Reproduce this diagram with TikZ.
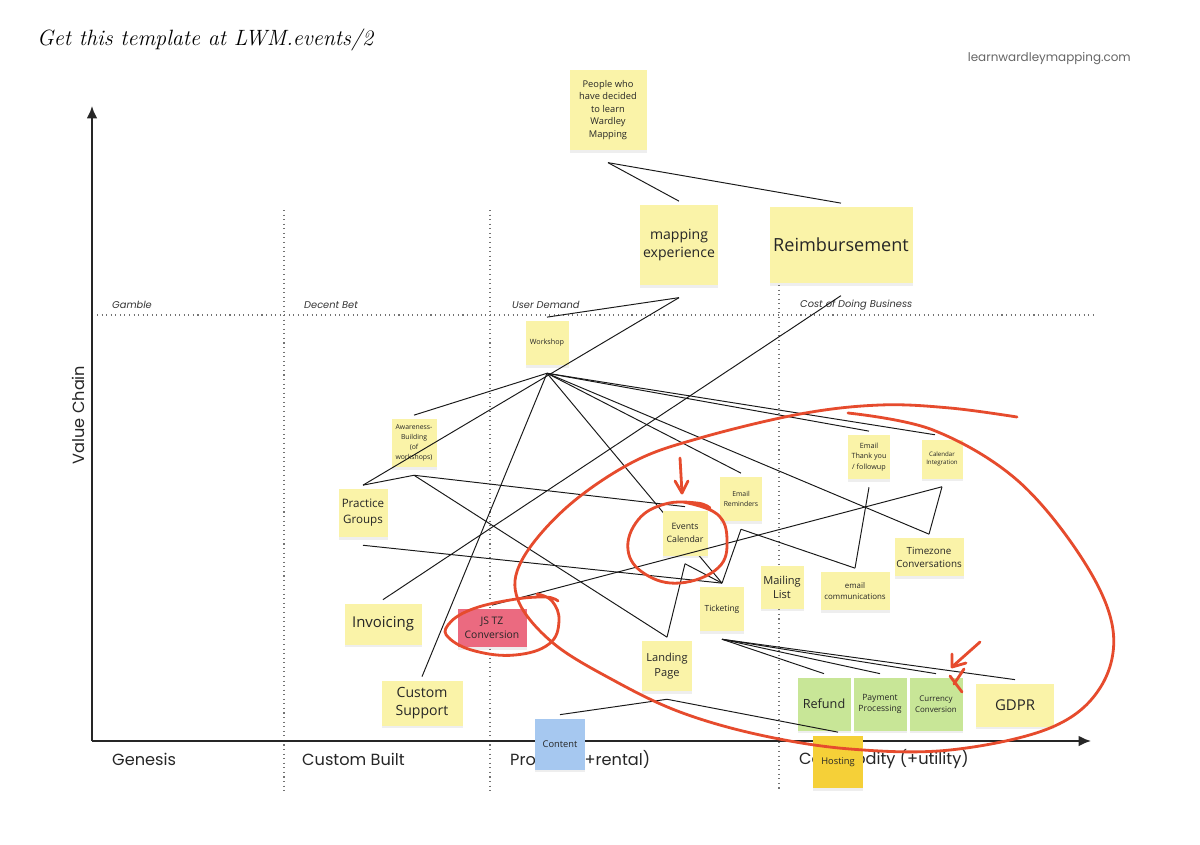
\documentclass[tikz,border=0pt]{standalone}
\usepackage{fontspec}
\newfontfamily\notefont{Open Sans}
\newfontfamily\axisfont{Poppins}
\usepackage{xcolor}
\usetikzlibrary{arrows.meta, shadows, backgrounds}

\definecolor{notey}{HTML}{FAF3A8}
\definecolor{noteg}{HTML}{C8E697}
\definecolor{notep}{HTML}{EB6A80}
\definecolor{noteb}{HTML}{A6C8F0}
\definecolor{noteo}{HTML}{F5D038}
\definecolor{redpen}{HTML}{E64B2D}

\begin{document}
\begin{tikzpicture}[
    x=0.02cm, y=-0.02cm,
    >={Latex[length=7pt, width=6pt]},
    % Sticky notes
    note/.style={
        rectangle, fill=notey, text=black!85, align=center, inner sep=0pt,
        drop shadow={shadow xshift=0pt, shadow yshift=-1.5pt, opacity=0.13}
    },
    wh/.style 2 args={minimum width=#1*0.02cm, minimum height=#2*0.02cm},
    fs/.style 2 args={font=\notefont\fontsize{#1}{#2}\selectfont},
    % Dependency line
    link/.style={black!90, line width=0.55pt},
    % Grid and axes
    grid/.style={black!55, dotted, line width=0.6pt},
    axis/.style={->, black!85, line width=1.1pt},
    axislabel/.style={font=\axisfont\fontsize{9.2}{11}\selectfont, text=black!85},
    zone/.style={font=\axisfont\itshape\fontsize{5.6}{7}\selectfont, text=black!80, anchor=west},
    % Red marker scribbles
    pen/.style={draw=redpen, line width=1.6pt, line cap=round, line join=round},
]

\begin{scope}[on background layer]
    \fill[white] (0,0) rectangle (1200,845);
\end{scope}
\useasboundingbox (0,0) rectangle (1200,845);

% ===== HEADER =====
\node[anchor=west, font=\itshape\fontsize{12.6}{15}\selectfont] (title) at (31,40)
    {Get this template at LWM.events/2};
\node[anchor=east, font=\axisfont\fontsize{6.8}{8}\selectfont, text=black!60] (site) at (1137,59)
    {learnwardleymapping.com};

% ===== GRID =====
\draw[grid] (97,315) -- (1093,315);
\draw[grid] (284,210) -- (284,792);
\draw[grid] (490,210) -- (490,792);
\draw[grid] (779,285) -- (779,792);

\node[zone] (z1) at (106,305) {Gamble};
\node[zone] (z2) at (298,305) {Decent Bet};
\node[zone] (z3) at (506,305) {User Demand};
\node[zone] (z4) at (794,305) {Cost of Doing Business};

% ===== AXES =====
\draw[axis] (92,741) -- (92,106);
\draw[axis] (92,741) -- (1091,741);

\node[axislabel, rotate=90] (vc) at (78,415) {Value Chain};
\node[axislabel, anchor=west] (ev1) at (106,759) {Genesis};
\node[axislabel, anchor=west] (ev2) at (296,759) {Custom Built};
\node[axislabel, anchor=west] (ev3) at (504,759) {Product (+rental)};
\node[axislabel, anchor=west] (ev4) at (793,759) {Commodity (+utility)};

% ===== STICKY NOTES =====
\node[note, wh={77}{80}, fs={5.3}{7.1}] (ppl) at (608,110)
    {People who\\have decided\\to learn\\Wardley\\Mapping};
\node[note, wh={78}{80}, fs={8}{10.2}] (mapx) at (679,245)
    {mapping\\experience};
\node[note, wh={143}{76}, fs={10.3}{12}] (reimb) at (841,245)
    {Reimbursement};
\node[note, wh={43}{44}, fs={4.1}{5}] (ws) at (547,343)
    {Workshop};
\node[note, wh={45}{48}, fs={3.9}{5.7}] (awb) at (414,443)
    {Awareness-\\Building\\(of\\workshops)};
\node[note, wh={49}{48}, fs={6.6}{9}] (pg) at (363,513)
    {Practice\\Groups};
\node[note, wh={45}{45}, fs={5}{7}] (evc) at (685,533)
    {Events\\Calendar};
\node[note, wh={42}{44}, fs={3.9}{5.6}] (emr) at (741,499)
    {Email\\Reminders};
\node[note, wh={42}{44}, fs={4.1}{5.8}] (ety) at (869,457)
    {Email\\Thank you\\/ followup};
\node[note, wh={41}{39}, fs={3.5}{5}] (cin) at (942,459)
    {Calendar\\Integration};
\node[note, wh={69}{38}, fs={5.6}{7.4}] (tz) at (929,557)
    {Timezone\\Conversations};
\node[note, wh={69}{38}, fs={4.5}{6}] (ecm) at (855,591)
    {email\\communications};
\node[note, wh={43}{43}, fs={6.3}{8}] (ml) at (782,587)
    {Mailing\\List};
\node[note, wh={44}{44}, fs={4.8}{6}] (tkt) at (722,609)
    {Ticketing};
\node[note, wh={77}{41}, fs={8.5}{10}] (inv) at (383,624)
    {Invoicing};
\node[note, fill=notep, wh={69}{38}, fs={5.9}{8}] (jstz) at (492,628)
    {JS TZ\\Conversion};
\node[note, wh={50}{50}, fs={6.3}{8.5}] (lp) at (667,666)
    {Landing\\Page};
\node[note, wh={81}{45}, fs={8}{10.5}] (cs) at (422,703)
    {Custom\\Support};
\node[note, fill=noteb, wh={50}{51}, fs={5.3}{6.5}] (cnt) at (560,744)
    {Content};
\node[note, fill=noteg, wh={53}{53}, fs={7.2}{9}] (ref) at (824,704)
    {Refund};
\node[note, fill=noteg, wh={53}{53}, fs={4.9}{6.6}] (pay) at (880,704)
    {Payment\\Processing};
\node[note, fill=noteg, wh={53}{53}, fs={4.5}{6.3}] (cur) at (936,704)
    {Currency\\Conversion};
\node[note, wh={78}{43}, fs={8.5}{10}] (gdpr) at (1015,705)
    {GDPR};
\node[note, fill=noteo, wh={50}{52}, fs={5.3}{6.5}] (host) at (838,762)
    {Hosting};

% ===== CONNECTION POINTS =====
\foreach \n in {ws, awb, pg, evc, emr, ety, cin, tkt, lp}
    \coordinate (\n-b) at ([yshift=-4.5pt]\n.south);
\foreach \n in {ppl, mapx, reimb}
    \coordinate (\n-b) at ([yshift=-7pt]\n.south);
\foreach \n in {mapx, reimb, ws, awb, pg, evc, emr, ety, tz, ecm, tkt,
                inv, jstz, lp, cs, cnt, ref, pay, cur, gdpr, host}
    \coordinate (\n-t) at ([yshift=2pt]\n.north);
\coordinate (cin-t) at ([xshift=-4pt, yshift=2.5pt]cin.north);

% ===== LINKS =====
\begin{scope}[on background layer]
    \draw[link] (ws-b) -- (tkt-t);
\end{scope}

\draw[link] (ppl-b) -- (mapx-t);
\draw[link] (ppl-b) -- (reimb-t);
\draw[link] (mapx-b) -- (ws-t);
\draw[link] (mapx-b) -- (pg-t);
\draw[link] (reimb-b) -- (inv-t);

\foreach \m in {awb, cs, emr, tz, ety, cin}
    \draw[link] (ws-b) -- (\m-t);
\foreach \m in {pg, evc, lp}
    \draw[link] (awb-b) -- (\m-t);

\draw[link] (pg-b) -- (tkt-t);
\draw[link] (evc-b) -- (tkt-t);
\draw[link] (evc-b) -- (lp-t);
\draw[link] (emr-b) -- (tkt-t);
\draw[link] (emr-b) -- (ecm-t);
\draw[link] (ety-b) -- (ecm-t);
\draw[link] (cin-b) -- (tz-t);
\draw[link] (cin-b) -- (jstz-t);

\foreach \m in {ref, pay, cur, gdpr}
    \draw[link] (tkt-b) -- (\m-t);
\draw[link] (lp-b) -- (cnt-t);
\draw[link] (lp-b) -- (host-t);

% ===== RED MARKER =====
% big loop round the right-hand group
\draw[pen] plot[smooth, tension=0.6] coordinates {
    (848,413) (933,430) (1017,480) (1083,560) (1113,630) (1100,688)
    (1050,728) (950,750) (850,749) (760,735) (680,712) (613,680)
    (553,643) (518,600) (522,560) (567,507) (633,462) (700,438)
    (800,414) (880,405) (950,408) (1017,417)};
% circle round Events Calendar
\draw[pen] plot[smooth, tension=0.7] coordinates {
    (683,502) (717,514) (727,540) (718,568) (680,583) (645,574)
    (628,550) (638,520) (665,504) (697,503) (710,508)};
\draw[pen] (680,458) -- (682,493);
\draw[pen] (675,481) -- (682,493) -- (688,481);
% loop round JS TZ Conversion
\draw[pen] plot[smooth, tension=0.7] coordinates {
    (537,594) (552,601) (559,621) (549,644) (515,655) (475,651)
    (449,638) (448,625) (470,610) (510,600) (545,597) (558,601)};
% arrow and cross at Currency Conversion
\draw[pen] (980,642) -- (953,666);
\draw[pen] (952,654) -- (952,667) -- (966,663);
\draw[pen] (950,676) -- (962,692);
\draw[pen] (964,669) -- (954,684);

\end{tikzpicture}
\end{document}
